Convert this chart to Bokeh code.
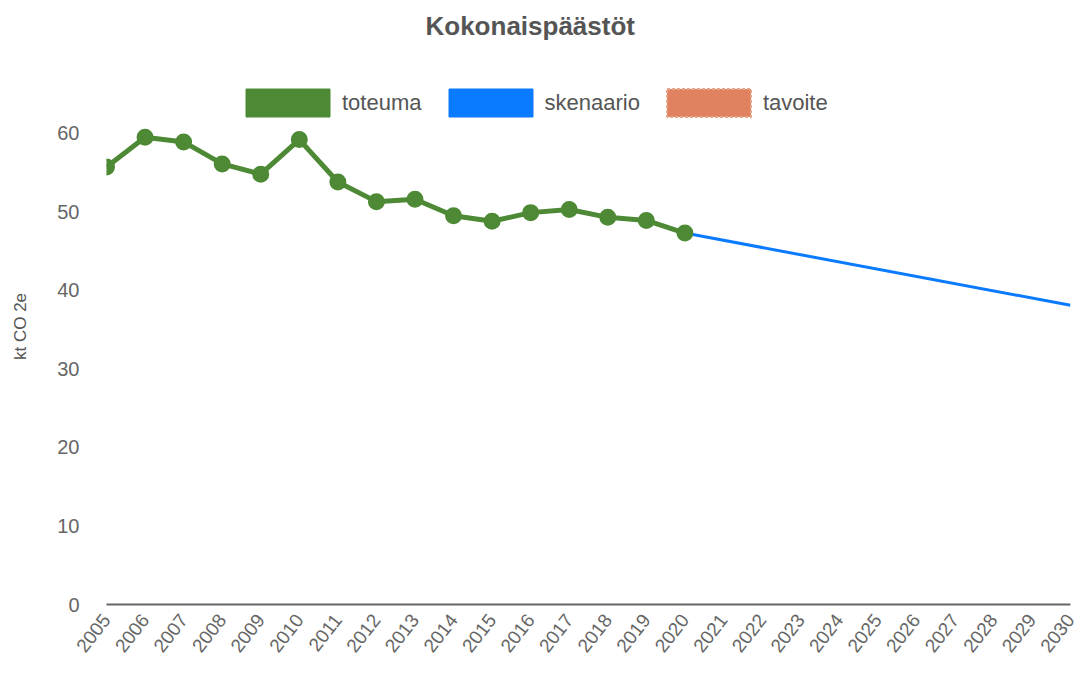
import math
from bokeh.plotting import figure
from bokeh.models import Range1d, FixedTicker, Legend, LegendItem, ColumnDataSource
from bokeh.embed import file_html
from bokeh.resources import INLINE

years = list(range(2005, 2021))
toteuma = [55.7, 59.5, 58.9, 56.1, 54.8, 59.2, 53.8, 51.3, 51.6, 49.5, 48.8, 49.9, 50.3, 49.3, 48.9, 47.3]
sken_years = [2020, 2030]
skenaario = [47.3, 38.1]
tavoite_years = []
tavoite = []
all_years = list(range(2005, 2031))
y_ticks = [0, 10, 20, 30, 40, 50, 60]

GREEN = "#4e8a35"
BLUE = "#0a7bff"
ORANGE = "#e0825f"
FONT = "Liberation Sans"

p = figure(width=1080, height=673, output_backend="svg", toolbar_location=None,
           x_range=Range1d(2005, 2030), y_range=Range1d(0, 70.8),
           min_border_left=106, min_border_right=10, min_border_bottom=69, min_border_top=48)
p.outline_line_color = None
p.grid.visible = False

p.title.text = "Kokonaispäästöt"
p.title.align = "left"
p.title.offset = 319
p.title.standoff = 16
p.title.text_font = FONT
p.title.text_font_size = "26px"
p.title.text_color = "#555555"

# axes
p.xaxis.ticker = FixedTicker(ticks=all_years)
p.xaxis.major_label_orientation = math.radians(52)
p.xaxis.major_tick_line_color = None
p.xaxis.minor_tick_line_color = None
p.xaxis.axis_line_color = "#666666"
p.xaxis.axis_line_width = 2
p.xaxis.major_label_text_font = FONT
p.xaxis.major_label_text_font_size = "19px"
p.xaxis.major_label_text_color = "#666666"
p.xaxis.major_label_standoff = 6

p.yaxis.ticker = FixedTicker(ticks=y_ticks)
p.yaxis.axis_line_color = None
p.yaxis.major_tick_line_color = None
p.yaxis.minor_tick_line_color = None
p.yaxis.major_label_text_font = FONT
p.yaxis.major_label_text_font_size = "20px"
p.yaxis.major_label_text_color = "#666666"
p.yaxis.major_label_standoff = 21
p.yaxis.axis_label = "kt CO 2e"
p.yaxis.axis_label_text_font = FONT
p.yaxis.axis_label_text_font_size = "17px"
p.yaxis.axis_label_text_font_style = "normal"
p.yaxis.axis_label_text_color = "#555555"
p.yaxis.axis_label_standoff = 24

# data
p.line(sken_years, skenaario, line_color=BLUE, line_width=3)
p.line(years, toteuma, line_color=GREEN, line_width=5)
p.scatter(years, toteuma, size=15, fill_color=GREEN, line_color=GREEN, line_width=2)
if tavoite:
    p.line(tavoite_years, tavoite, line_color=ORANGE, line_width=3, line_dash="6 3")

# legend swatches (renderers with no drawable data)
nan = float("nan")
def swatch(**kw):
    src = ColumnDataSource(dict(l=[nan], r=[nan], t=[nan], b=[nan]))
    return p.quad(left="l", right="r", top="t", bottom="b", source=src, **kw)

r1 = swatch(fill_color=GREEN, line_color=GREEN, line_width=1)
r2 = swatch(fill_color=BLUE, line_color=BLUE, line_width=1)
r3 = swatch(fill_color=ORANGE, line_color="#e9a58a", line_width=2, line_dash="3 2")

legend = Legend(items=[LegendItem(label="toteuma", renderers=[r1]),
                       LegendItem(label="skenaario", renderers=[r2]),
                       LegendItem(label="tavoite", renderers=[r3])],
                orientation="horizontal", location=(129, 484),
                glyph_width=105, glyph_height=35, label_standoff=2, spacing=16,
                padding=0, margin=0, border_line_color=None, background_fill_alpha=0,
                label_text_font=FONT, label_text_font_size="22px", label_text_color="#555555")
p.add_layout(legend)

open("out.html", "w").write(file_html(p, INLINE))
